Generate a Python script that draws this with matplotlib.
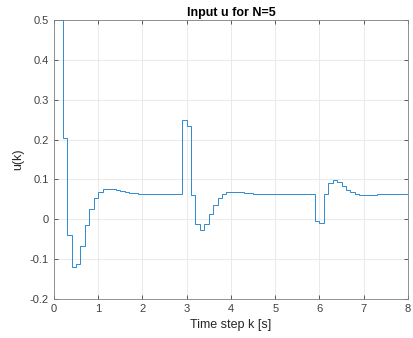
import matplotlib
matplotlib.use('Agg')
import matplotlib.pyplot as plt
import numpy as np

plt.rcParams['font.family'] = ['Liberation Sans', 'DejaVu Sans']

# sample time 0.1 s, value held from t[k] to t[k+1]
dt = 0.1
u_vals = [
  0.50, 0.50,                                            # 0.0 - 0.2
  0.203, -0.040, -0.120, -0.111, -0.066, -0.015, 0.027, 0.054,  # 0.2 - 1.0
  0.069, 0.075, 0.076, 0.075, 0.073, 0.071, 0.068, 0.066, 0.065, 0.064,  # 1.0 - 2.0
  0.063, 0.063, 0.063, 0.063, 0.063, 0.063, 0.063, 0.063, 0.063, 0.249,  # 2.0 - 3.0
  0.234, 0.060, -0.013, -0.027, -0.013, 0.013, 0.036, 0.053, 0.063, 0.068,  # 3.0 - 4.0
  0.069, 0.069, 0.068, 0.066, 0.065, 0.064, 0.063, 0.063, 0.063, 0.063,  # 4.0 - 5.0
  0.063, 0.063, 0.063, 0.063, 0.063, 0.063, 0.063, 0.063, 0.063, -0.004,  # 5.0 - 6.0
  -0.010, 0.063, 0.092, 0.098, 0.093, 0.084, 0.074, 0.068, 0.064, 0.061,  # 6.0 - 7.0
  0.061, 0.062, 0.062, 0.063, 0.063, 0.063, 0.063, 0.063, 0.063, 0.063,  # 7.0 - 8.0
]
t_edges = np.arange(len(u_vals) + 1) * dt

fig = plt.figure(figsize=(4.14, 3.38), dpi=100)
ax = fig.add_axes([0.130, 0.1154, 0.8555, 0.8256])

ax.stairs(u_vals, t_edges, color='#2f8ad0', lw=0.7, baseline=None)

ax.set_xlim(0, 8)
ax.set_ylim(-0.2, 0.5)
ax.set_xticks(np.arange(0, 9, 1))
ax.set_yticks(np.arange(-0.2, 0.51, 0.1))
ax.set_yticklabels(['-0.2', '-0.1', '0', '0.1', '0.2', '0.3', '0.4', '0.5'])

ax.grid(True, color='#e6e6e6', lw=0.6)
ax.set_axisbelow(True)
ax.tick_params(direction='in', length=3, width=0.6, colors='#404040', labelsize=8,
               top=True, right=True, labeltop=False, labelright=False)
for s in ax.spines.values():
  s.set_color('#808080')
  s.set_linewidth(0.6)

ax.set_xlabel('Time step k [s]', fontsize=9, color='#262626', labelpad=4)
ax.set_ylabel('u(k)', fontsize=9, color='#262626', labelpad=4)
ax.set_title('Input u for N=5', fontsize=9, fontweight='bold', color='black', pad=3)

plt.savefig('out.png', dpi=100)
